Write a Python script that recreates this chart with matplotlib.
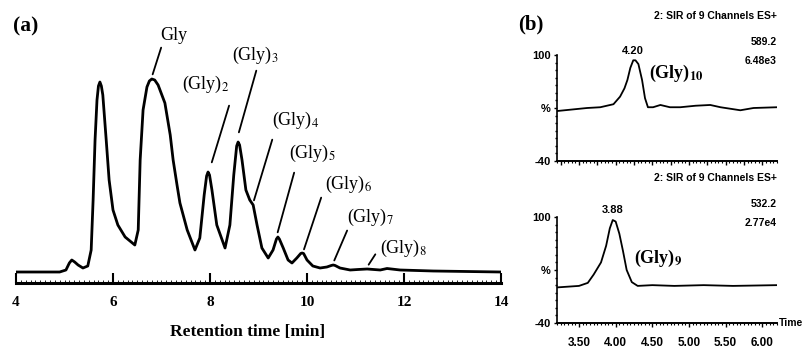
# chromatogram of glycine oligomers: (a) full trace, (b) SIR traces
import matplotlib
matplotlib.use('Agg')
import matplotlib.pyplot as plt
from matplotlib.ticker import MultipleLocator

plt.rcParams['font.family'] = ['Liberation Serif', 'DejaVu Serif']
plt.rcParams['mathtext.fontset'] = 'stix'

# panel (a): retention time [min] vs detector signal (arbitrary units)
rt_a = [4.00, 4.90, 5.03, 5.10, 5.15, 5.21, 5.28, 5.38, 5.48, 5.55, 5.59, 5.63, 5.67, 5.70,
        5.73, 5.76, 5.79, 5.86, 5.92, 6.00, 6.10, 6.25, 6.45, 6.52, 6.56, 6.62, 6.70, 6.75,
        6.80, 6.86, 6.93, 7.07, 7.18, 7.24, 7.32, 7.38, 7.53, 7.69, 7.79, 7.88, 7.93, 7.96,
        7.99, 8.04, 8.14, 8.31, 8.41, 8.49, 8.55, 8.58, 8.61, 8.66, 8.74, 8.82, 8.89, 8.97,
        9.07, 9.20, 9.30, 9.37, 9.40, 9.43, 9.51, 9.61, 9.69, 9.79, 9.87, 9.90, 9.93, 10.00,
        10.12, 10.27, 10.41, 10.50, 10.54, 10.58, 10.68, 10.89, 11.05, 11.24, 11.51, 11.65,
        11.92, 12.60, 14.00]
sig_a = [0, 0, 2, 9, 12, 10, 7, 4, 6, 22, 72, 132, 172, 186,
         190, 186, 177, 132, 92, 62, 47, 35, 27, 42, 112, 162, 185, 191,
         193, 192, 187, 169, 137, 112, 87, 69, 42, 22, 34, 77, 96, 100,
         97, 82, 47, 24, 47, 97, 126, 130, 127, 112, 82, 72, 67, 47,
         24, 14, 22, 33, 35, 33, 24, 12, 9, 14, 18.5, 19, 18.5, 12,
         6, 4, 5, 6.5, 7, 6.5, 4, 2, 2.5, 3, 2, 3.5, 2, 1, 0]

peak_names = ['Gly', '(Gly)$_2$', '(Gly)$_3$', '(Gly)$_4$', '(Gly)$_5$',
              '(Gly)$_6$', '(Gly)$_7$', '(Gly)$_8$']
peak_rt = [6.80, 8.02, 8.58, 8.89, 9.38, 9.92, 10.54, 11.24]
peak_sig = [195, 107, 137, 69, 37, 20, 9, 5]
leader_rt = [7.01, 8.41, 8.97, 9.30, 9.75, 10.31, 10.85, 11.44]
leader_sig = [227, 169, 204, 135, 102, 77, 44, 20]
label_rt = [7.26, 7.90, 8.93, 9.77, 10.12, 10.85, 11.30, 11.98]
label_sig = [236, 188, 217, 152, 119, 88, 55, 24]

# panel (b): SIR traces, time [min] vs relative intensity [%]
t_top = [3.20, 3.61, 3.79, 3.97, 4.06, 4.12, 4.16, 4.20, 4.24, 4.27, 4.31, 4.36, 4.40,
         4.44, 4.51, 4.61, 4.74, 4.88, 5.09, 5.29, 5.43, 5.70, 5.88, 6.20]
i_top = [26, 30, 31, 35, 45, 56, 67, 83, 93, 93, 88, 67, 43,
         31, 31, 34, 31, 31, 33, 34, 31, 27, 30, 31]
t_bot = [3.20, 3.50, 3.62, 3.70, 3.80, 3.87, 3.92, 3.96, 4.00, 4.05, 4.10, 4.15, 4.22,
         4.30, 4.50, 4.80, 5.20, 5.60, 6.20]
i_bot = [7, 9, 13, 24, 40, 62, 85, 96, 94, 78, 55, 30, 14,
         9, 10, 9, 10, 9, 10]

b_ticks = [3.50, 4.00, 4.50, 5.00, 5.50, 6.00]
b_ylabels = ['100', '%', '-40']
b_header = '2: SIR of 9 Channels ES+'
top_info = ['589.2', '6.48e3']
bot_info = ['532.2', '2.77e4']

fig = plt.figure(figsize=(8.04, 3.56), dpi=100)
W, H = 804.0, 356.0

# ---- (a)
ax = fig.add_axes([16 / W, 1 - 283 / H, 485 / W, 263 / H])
ax.plot(rt_a, sig_a, color='black', lw=2.0, solid_joinstyle='round')
ax.set_xlim(4, 14)
ax.set_ylim(-11, 252)
for s in ['top', 'left', 'right']:
    ax.spines[s].set_visible(False)
ax.spines['bottom'].set_linewidth(2.2)
ax.set_yticks([])
ax.set_xticks([4, 6, 8, 10, 12, 14])
ax.xaxis.set_minor_locator(MultipleLocator(0.1))
ax.tick_params(axis='x', which='major', direction='in', length=7, width=1.5, pad=9,
               labelsize=11)
ax.tick_params(axis='x', which='minor', direction='in', length=2, width=0.6)
for lab in ax.get_xticklabels():
    lab.set_fontweight('bold')

for name, px, py, lx, ly, tx, ty in zip(peak_names, peak_rt, peak_sig, leader_rt,
                                        leader_sig, label_rt, label_sig):
    ax.annotate('', xy=(px, py), xytext=(lx, ly),
                arrowprops=dict(arrowstyle='-', lw=1.3, color='black'))
    ax.text(tx, ty, name, ha='center', va='center', fontsize=13)

fig.text(248 / W, 1 - 332 / H, 'Retention time [min]', ha='center', va='center',
         fontsize=12.5, fontweight='bold')
fig.text(13 / W, 1 - 26 / H, '(a)', ha='left', va='center', fontsize=15.5, fontweight='bold')
fig.text(518 / W, 1 - 24 / H, '(b)', ha='left', va='center', fontsize=15, fontweight='bold')

# ---- (b)
sans = ['Liberation Sans Narrow', 'Liberation Sans', 'DejaVu Sans']


def sir_axes(rect, t, inten, apex_label, apex_t, apex_i, info, gly, gly_xy, show_x):
    bx = fig.add_axes(rect)
    bx.plot(t, inten, color='black', lw=1.3)
    bx.set_xlim(3.2, 6.2)
    bx.set_ylim(-40, 100)
    bx.spines['top'].set_visible(False)
    bx.spines['right'].set_visible(False)
    bx.spines['left'].set_linewidth(1.2)
    bx.spines['bottom'].set_linewidth(1.4)
    bx.set_yticks([100, 30, -40])
    bx.set_yticklabels(b_ylabels, family=sans, fontweight='bold', fontsize=8)
    bx.yaxis.set_minor_locator(MultipleLocator(10))
    bx.tick_params(axis='y', which='major', length=2.5, width=1, pad=2)
    bx.tick_params(axis='y', which='minor', length=1.5, width=1)
    bx.xaxis.set_major_locator(MultipleLocator(0.25))
    bx.xaxis.set_minor_locator(MultipleLocator(0.05))
    bx.tick_params(axis='x', which='major', length=3, width=1)
    bx.tick_params(axis='x', which='minor', length=1.5, width=0.8)
    if show_x:
        bx.set_xticks(b_ticks)
        bx.set_xticklabels(['%.2f' % v for v in b_ticks], family=sans,
                           fontweight='bold', fontsize=8.5)
        bx.tick_params(axis='x', which='major', pad=7)
        bx.text(1.01, 0.0, 'Time', transform=bx.transAxes, ha='left', va='center',
                family=sans, fontweight='bold', fontsize=7.5)
    else:
        bx.set_xticklabels([])
    bx.text(apex_t, apex_i + 6, apex_label, ha='center', va='bottom',
            family=sans, fontweight='bold', fontsize=8)
    bx.text(1.0, 1.37, b_header, transform=bx.transAxes, ha='right', va='center',
            family=sans, fontweight='bold', fontsize=7.5)
    bx.text(1.0, 1.12, info[0], transform=bx.transAxes, ha='right', va='center',
            family=sans, fontweight='bold', fontsize=7.5)
    bx.text(1.0, 0.94, info[1], transform=bx.transAxes, ha='right', va='center',
            family=sans, fontweight='bold', fontsize=7.5)
    bx.text(gly_xy[0], gly_xy[1], gly, ha='left', va='center', fontsize=13,
            fontweight='bold', family=['Liberation Serif', 'DejaVu Serif'])
    return bx


sir_axes([557 / W, 1 - 161 / H, 220 / W, 106 / H], t_top, i_top, '4.20', 4.24, 93,
         top_info, '(Gly)$_{\\mathbf{10}}$', (4.45, 75), False)
sir_axes([557 / W, 1 - 323 / H, 220 / W, 106 / H], t_bot, i_bot, '3.88', 3.96, 96,
         bot_info, '(Gly)$_{\\mathbf{9}}$', (4.25, 45), True)

fig.savefig('out.png', dpi=100)
